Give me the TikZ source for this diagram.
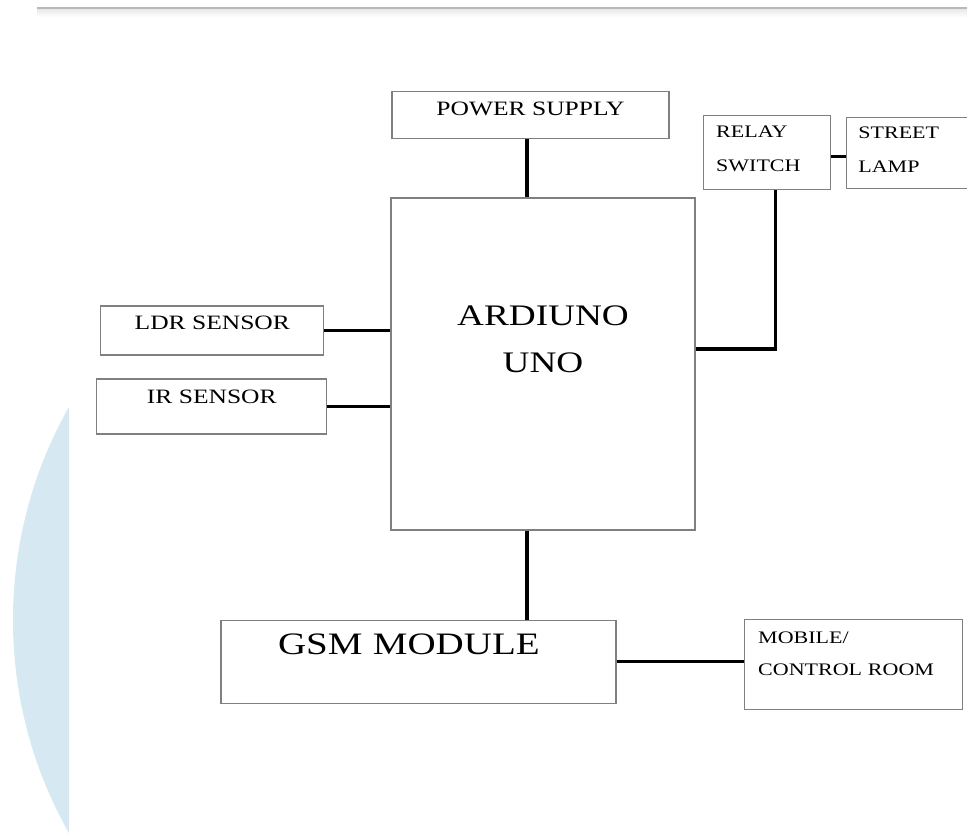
\documentclass[tikz,border=0pt]{standalone}
\usepackage{fontspec}
\setmainfont[FakeStretch=1.25]{Liberation Serif}
\usepackage{xcolor}
\usepackage{tikz}
\usetikzlibrary{positioning}
\definecolor{bubble}{RGB}{214,232,241}
\tikzset{
    blk/.style={rectangle, draw=black!50, line width=0.6pt, fill=white, inner sep=0pt},
    wire/.style={line width=1.6pt, draw=black},
    txtS/.style={font=\fontsize{8.8pt}{17pt}\selectfont},
    txtM/.style={font=\fontsize{10.2pt}{12pt}\selectfont},
    txtL/.style={font=\fontsize{15.6pt}{18pt}\selectfont}
}
\begin{document}
\begin{tikzpicture}[x=0.5pt, y=-0.5pt]
        \path[use as bounding box] (0,0) rectangle (967,836);
        \clip (0,0) rectangle (967,836);
        \begin{scope}
            \clip (0,0) rectangle (69,836);
            \fill[bubble] (446,620) circle[radius=216.5pt];
        \end{scope}
        \shade[top color=black!10, bottom color=white] (37,8) rectangle (967,17);
        \draw[black!28, line width=0.8pt] (37,8) -- (967,8);

        \node[blk, align=center, minimum width=152pt, text height=87pt, text depth=79pt, font=\fontsize{14.9pt}{23.5pt}\selectfont] (uno) at (543,364) {ARDIUNO\\UNO};
        \node[blk, txtM, minimum width=138.5pt, text height=12pt, text depth=11.5pt, above=29pt of uno, xshift=-6.25pt] (pwr) {POWER SUPPLY};
        \node[blk, txtS, align=left, text width=50.5pt, inner xsep=6.5pt, text height=11pt, text depth=26pt, above right=3.5pt and 3.5pt of uno.north east] (relay) {RELAY\\SWITCH};
        \node[blk, txtS, align=left, text width=61pt, inner xsep=6pt, text height=10.5pt, text depth=25pt, right=7.5pt of relay] (lamp) {STREET\\LAMP};
        \node[blk, txtM, minimum width=111.5pt, text height=11.5pt, text depth=13pt, left=33pt of uno.west, yshift=16.75pt] (ldr) {LDR SENSOR};
        \node[blk, txtM, minimum width=115pt, text height=12pt, text depth=15.5pt, left=31.5pt of uno.west, yshift=-21.25pt] (ir) {IR SENSOR};
        \node[blk, txtL, align=left, text width=140.5pt, inner xsep=28.5pt, text height=17pt, text depth=24.5pt, below=44.5pt of uno, xshift=-62.25pt] (gsm) {GSM MODULE};
        \node[blk, txtS, align=left, text width=95pt, inner xsep=7pt, text height=12pt, text depth=33pt, font=\fontsize{8.8pt}{16pt}\selectfont, right=63.5pt of gsm, yshift=-1.25pt] (mob) {MOBILE/\\CONTROL ROOM};

        \coordinate (pwrtap) at ([xshift=-1.75pt]pwr.south);
        \coordinate (reltap) at ([xshift=4.25pt]relay.south);
        \coordinate (unotap) at ([yshift=7.5pt]uno.east);
        \coordinate (lamptap) at ([yshift=-2pt]relay.east);
        \coordinate (gsmtap) at ([xshift=-8pt]uno.south);

        \draw[wire] (pwrtap) -- (pwrtap |- uno.north);
        \draw[wire] (ldr.east) -- (ldr.east -| uno.west);
        \draw[wire] (ir.east) -- (ir.east -| uno.west);
        \draw[wire] (reltap) |- (unotap);
        \draw[wire] (lamptap) -- (lamptap -| lamp.west);
        \draw[wire] (gsmtap) -- (gsmtap |- gsm.north);
        \draw[wire] (gsm.east) -- (gsm.east -| mob.west);
    \end{tikzpicture}
\end{document}
